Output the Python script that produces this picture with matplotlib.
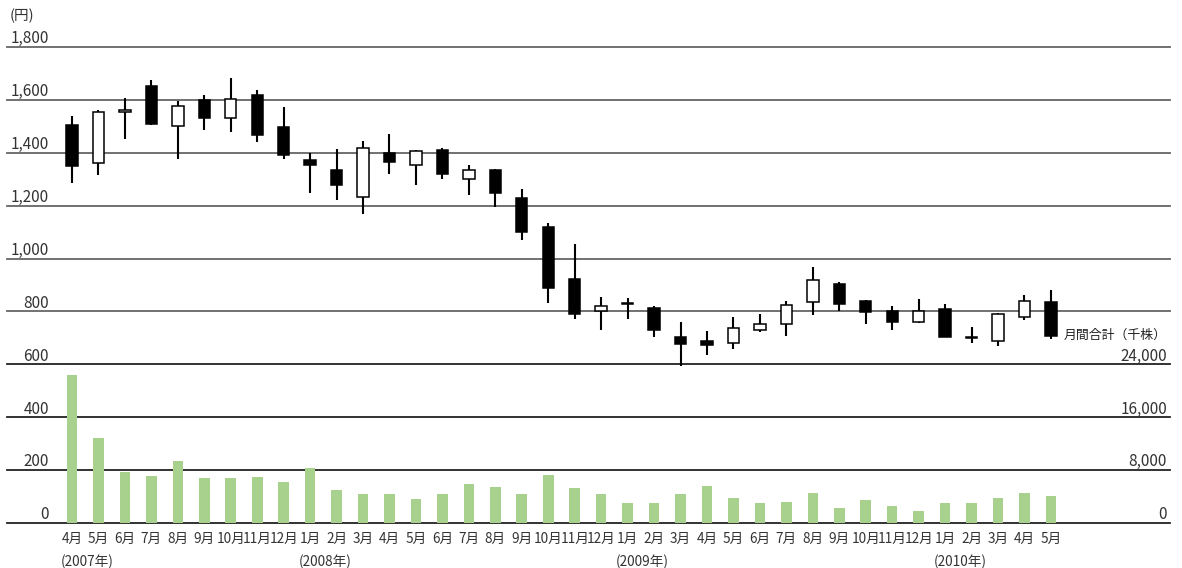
import matplotlib
matplotlib.use("Agg")
import matplotlib.pyplot as plt
import matplotlib.transforms as mtransforms

plt.rcParams['font.family'] = ['Noto Sans CJK JP', 'DejaVu Sans']

# ---- data ----
months = ['4月', '5月', '6月', '7月', '8月', '9月', '10月', '11月', '12月',
          '1月', '2月', '3月', '4月', '5月', '6月', '7月', '8月', '9月', '10月', '11月', '12月',
          '1月', '2月', '3月', '4月', '5月', '6月', '7月', '8月', '9月', '10月', '11月', '12月',
          '1月', '2月', '3月', '4月', '5月']
year_labels = ['(2007年)', '(2008年)', '(2009年)', '(2010年)']
year_positions = [0, 9, 21, 33]

open_ = [1504, 1363, 1555, 1654, 1500, 1601, 1530, 1619, 1496,
         1374, 1336, 1234, 1401, 1355, 1409, 1302, 1335, 1230, 1121, 922, 802,
         832, 814, 703, 688, 680, 729, 752, 835, 902, 840, 801, 759,
         811, 705, 687, 778, 836]
high = [1540, 1561, 1608, 1675, 1596, 1617, 1683, 1637, 1574,
        1399, 1414, 1446, 1471, 1410, 1419, 1353, 1338, 1263, 1136, 1054, 853,
        852, 820, 760, 727, 780, 791, 839, 968, 912, 845, 822, 847,
        828, 741, 793, 861, 880]
low = [1287, 1317, 1453, 1505, 1377, 1486, 1479, 1442, 1375,
       1247, 1222, 1170, 1321, 1277, 1300, 1242, 1196, 1070, 831, 771, 731,
       771, 703, 595, 636, 658, 724, 709, 785, 800, 753, 729, 755,
       702, 682, 671, 767, 697]
close = [1351, 1553, 1563, 1509, 1577, 1533, 1602, 1466, 1393,
         1353, 1280, 1418, 1365, 1408, 1321, 1334, 1247, 1102, 887, 792, 821,
         828, 728, 677, 672, 738, 751, 825, 920, 829, 797, 761, 801,
         703, 699, 789, 838, 707]
volume = [22390, 12880, 7750, 7140, 9410, 6840, 6840, 6990, 6240,
          8350, 5030, 4430, 4430, 3670, 4430, 5940, 5480, 4430, 7290, 5330, 4430,
          3070, 3070, 4430, 5630, 3820, 3070, 3220, 4580, 2310, 3520, 2620, 1860,
          3070, 3070, 3820, 4580, 4120]

price_ticks = [0, 200, 400, 600, 800, 1000, 1200, 1400, 1600, 1800]
price_tick_labels = ['0', '200', '400', '600', '800', '1,000', '1,200', '1,400', '1,600', '1,800']
vol_ticks = [0, 8000, 16000, 24000]
vol_tick_labels = ['0', '8,000', '16,000', '24,000']

# ---- figure ----
W, H = 1182, 568
fig = plt.figure(figsize=(W / 100, H / 100), dpi=100)
ax = fig.add_axes([7 / W, 45 / H, 1163 / W, 476 / H])
ax.set_xlim(-2.457, 41.5)
ax.set_ylim(0, 1800)
ax.axis('off')

ax2 = ax.twinx()
ax2.set_ylim(0, 72000)
ax2.set_xlim(-2.457, 41.5)
ax2.axis('off')

# gridlines
for v in price_ticks:
    col = '#666666' if v > 600 else '#222222'
    ax.axhline(v, color=col, lw=1.3, zorder=1, clip_on=False)

x = list(range(len(months)))

# volume bars
ax2.bar(x, volume, width=0.4, color='#a9d18e', zorder=2)

# candlesticks
ax.vlines(x, low, high, color='black', lw=1.5, zorder=3)
bottoms = [min(o, c) for o, c in zip(open_, close)]
heights = [max(abs(c - o), 3) for o, c in zip(open_, close)]
faces = ['white' if c > o else 'black' for o, c in zip(open_, close)]
ax.bar(x, heights, bottom=bottoms, width=0.43, color=faces,
       edgecolor='black', linewidth=1.1, zorder=4)

# left price labels
trans_l = mtransforms.blended_transform_factory(ax.transAxes, ax.transData)
for v, lab in zip(price_ticks, price_tick_labels):
    ax.text(0.0361, v + 14, lab, transform=trans_l, ha='right', va='baseline',
            fontsize=11, color='#333333')

# right volume labels
trans_r = mtransforms.blended_transform_factory(ax2.transAxes, ax2.transData)
for v, lab in zip(vol_ticks, vol_tick_labels):
    ax2.text(0.9974, v + 560, lab, transform=trans_r, ha='right', va='baseline',
             fontsize=11, color='#333333')

ax2.text(0.9974, 27900, '月間合計（千株）', transform=trans_r, ha='right',
         va='baseline', fontsize=9.3, color='#222222')

ax.text(3 / 1163, 1.0 + 31 / 476, '(円)', transform=ax.transAxes, ha='left',
        va='center', fontsize=10.5, color='#333333')

# x labels
trans_x = mtransforms.blended_transform_factory(ax.transData, ax.transAxes)
for i, m in enumerate(months):
    ax.text(i, -16 / 476, m, transform=trans_x, ha='center', va='center',
            fontsize=9.8, color='#333333')
for p, lab in zip(year_positions, year_labels):
    ax.text(p + 0.57, -39 / 476, lab, transform=trans_x, ha='center', va='center',
            fontsize=9.8, color='#333333')

fig.savefig('out.png', dpi=100)
